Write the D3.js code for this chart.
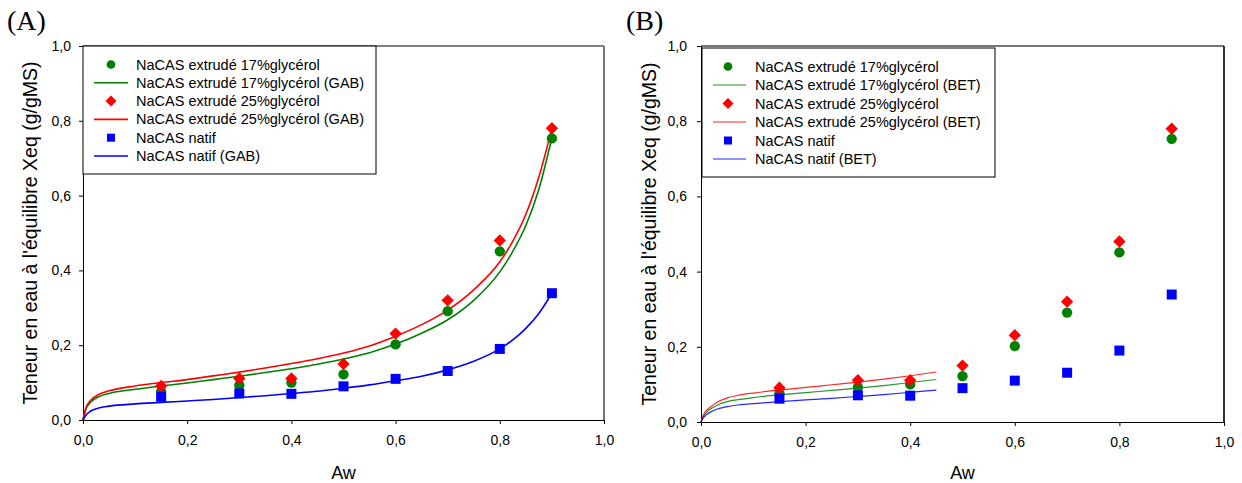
<!DOCTYPE html>
<html><head><meta charset="utf-8">
<script src="https://cdn.jsdelivr.net/npm/d3@7"></script>
<style>body{margin:0;background:#fff}svg text{font-family:Arial,"Liberation Sans",sans-serif}svg text.panel{font-family:"Liberation Serif","Times New Roman",serif}</style>
</head><body><svg id="c" width="1242" height="483"></svg>
<script>
// ---- data ----
const aw = [0.15, 0.3, 0.4, 0.5, 0.6, 0.7, 0.8, 0.9];
const ext17 = [0.076, 0.093, 0.100, 0.122, 0.202, 0.291, 0.451, 0.753];
const ext25 = [0.091, 0.111, 0.111, 0.150, 0.231, 0.320, 0.480, 0.780];
const natif = [0.062, 0.071, 0.070, 0.090, 0.110, 0.131, 0.190, 0.339];

const gabAw  = [0, 0.005, 0.015, 0.03, 0.05, 0.1, 0.15, 0.2, 0.25, 0.3, 0.35, 0.4, 0.45, 0.5, 0.55, 0.6, 0.65, 0.7, 0.75, 0.8, 0.825, 0.85, 0.875, 0.9];
const gab17  = [0, 0.027, 0.048, 0.062, 0.071, 0.082, 0.091, 0.099, 0.108, 0.117, 0.127, 0.137, 0.149, 0.163, 0.180, 0.203, 0.232, 0.268, 0.320, 0.396, 0.451, 0.520, 0.617, 0.755];
const gab25  = [0, 0.030, 0.053, 0.068, 0.078, 0.091, 0.100, 0.108, 0.118, 0.128, 0.139, 0.151, 0.164, 0.179, 0.198, 0.224, 0.255, 0.294, 0.348, 0.423, 0.478, 0.550, 0.650, 0.780];
const gabNat = [0, 0.012, 0.024, 0.032, 0.037, 0.043, 0.047, 0.051, 0.055, 0.060, 0.065, 0.071, 0.077, 0.085, 0.094, 0.105, 0.117, 0.134, 0.157, 0.190, 0.214, 0.245, 0.285, 0.339];

const betAw  = [0, 0.005, 0.01, 0.02, 0.03, 0.05, 0.075, 0.1, 0.15, 0.2, 0.25, 0.3, 0.35, 0.4, 0.45];
const bet17  = [0, 0.016, 0.025, 0.036, 0.044, 0.054, 0.060, 0.065, 0.072, 0.078, 0.084, 0.090, 0.097, 0.105, 0.113];
const bet25  = [0, 0.020, 0.030, 0.042, 0.052, 0.064, 0.072, 0.077, 0.085, 0.092, 0.099, 0.106, 0.114, 0.123, 0.133];
const betNat = [0, 0.012, 0.019, 0.028, 0.034, 0.041, 0.046, 0.049, 0.054, 0.059, 0.063, 0.068, 0.073, 0.079, 0.085];

const ticks = [0, 0.2, 0.4, 0.6, 0.8, 1.0];
const tickLabels = ["0,0", "0,2", "0,4", "0,6", "0,8", "1,0"];
const xTitle = "Aw";
const yTitle = "Teneur en eau à l'équilibre Xeq (g/gMS)";
const legendA = ["NaCAS extrudé 17%glycérol", "NaCAS extrudé 17%glycérol (GAB)", "NaCAS extrudé 25%glycérol", "NaCAS extrudé 25%glycérol (GAB)", "NaCAS natif", "NaCAS natif (GAB)"];
const legendB = ["NaCAS extrudé 17%glycérol", "NaCAS extrudé 17%glycérol (BET)", "NaCAS extrudé 25%glycérol", "NaCAS extrudé 25%glycérol (BET)", "NaCAS natif", "NaCAS natif (BET)"];

const GREEN = "#008000", RED = "#ff0000", BLUE = "#0000ff";
const svg = d3.select("#c");

function panel(o) {
  const x = d3.scaleLinear().domain([0, 1]).range([o.x0, o.x1]);
  const y = d3.scaleLinear().domain([0, 1]).range([o.y0, o.y1]);
  const g = svg.append("g");
  const fmt = (d) => tickLabels[ticks.indexOf(d)];

  g.append("line").attr("x1", o.x0).attr("x2", o.x1).attr("y1", o.y1).attr("y2", o.y1)
    .attr("stroke", o.topCol).attr("stroke-width", o.topW);
  g.append("line").attr("x1", o.x1).attr("x2", o.x1).attr("y1", o.y1).attr("y2", o.y0)
    .attr("stroke", o.rightCol).attr("stroke-width", o.rightW);

  const xa = g.append("g").attr("transform", `translate(0,${o.y0})`)
    .call(d3.axisBottom(x).tickValues(ticks).tickFormat(fmt).tickSizeOuter(0).tickSize(4).tickPadding(11));
  const ya = g.append("g").attr("transform", `translate(${o.x0},0)`)
    .call(d3.axisLeft(y).tickValues(ticks).tickFormat(fmt).tickSizeOuter(0).tickSize(4).tickPadding(o.yPad));
  [xa, ya].forEach(a => {
    a.selectAll("text").attr("font-size", 14).attr("fill", "#000");
    a.select(".domain").attr("stroke", "#000");
    a.selectAll(".tick line").attr("stroke", "#000");
  });

  g.append("text").attr("x", (o.x0 + o.x1) / 2).attr("y", 479).attr("text-anchor", "middle")
    .attr("font-size", 18).text(xTitle);
  g.append("text").attr("transform", `translate(${o.ytx},${(o.y0 + o.y1) / 2}) rotate(-90)`)
    .attr("text-anchor", "middle").attr("font-size", 19.5).text(yTitle);
  g.append("text").attr("class", "panel").attr("x", o.labx).attr("y", 30).attr("font-size", 28).text(o.label);

  const line = d3.line().x(d => x(d[0])).y(d => y(d[1])).curve(d3.curveMonotoneX);
  o.curves.forEach(c => {
    g.append("path").datum(c.xs.map((v, i) => [v, c.ys[i]]))
      .attr("d", line).attr("fill", "none").attr("stroke", c.color).attr("stroke-width", o.lw).attr("opacity", o.lop);
  });

  o.series.forEach(s => {
    const d = s.shape === "diamond" ? d3.symbol().type(d3.symbolSquare).size(76)() :
      s.shape === "circle" ? d3.symbol().type(d3.symbolCircle).size(84)() : d3.symbol().type(d3.symbolSquare).size(100)();
    g.append("g").selectAll("path").data(aw.map((a, i) => [a, s.ys[i]])).join("path")
      .attr("transform", p => `translate(${x(p[0])},${y(p[1])})${s.shape === "diamond" ? " rotate(45)" : ""}`)
      .attr("d", d).attr("fill", s.color);
  });

  const L = o.leg;
  g.append("rect").attr("x", L.x).attr("y", L.y).attr("width", L.w).attr("height", L.h)
    .attr("fill", "#fff").attr("stroke", "#000").attr("stroke-width", 1);
  const items = [
    {t: "circle", c: GREEN}, {t: "line", c: GREEN},
    {t: "diamond", c: RED}, {t: "line", c: RED},
    {t: "square", c: BLUE}, {t: "line", c: BLUE}
  ];
  items.forEach((it, i) => {
    const cy = L.ry0 + i * L.dy;
    if (it.t === "line") {
      g.append("line").attr("x1", L.lx0).attr("x2", L.lx1).attr("y1", cy).attr("y2", cy)
        .attr("stroke", it.c).attr("stroke-width", o.lw).attr("opacity", o.lop);
    } else {
      const d = it.t === "diamond" ? d3.symbol().type(d3.symbolSquare).size(60)() :
        it.t === "circle" ? d3.symbol().type(d3.symbolCircle).size(60)() : d3.symbol().type(d3.symbolSquare).size(64)();
      g.append("path").attr("d", d).attr("fill", it.c)
        .attr("transform", `translate(${L.sx},${cy})${it.t === "diamond" ? " rotate(45)" : ""}`);
    }
    g.append("text").attr("x", L.tx).attr("y", cy).attr("dy", "0.35em").attr("font-size", 14.5).text(o.legendText[i]);
  });
}

panel({
  x0: 83, x1: 604, y0: 420, y1: 46, yPad: 8, ytx: 37, labx: 7, label: "(A)",
  topCol: "#000", topW: 1.2, rightCol: "#777", rightW: 2, lw: 1.6, lop: 1,
  curves: [{xs: gabAw, ys: gab17, color: GREEN}, {xs: gabAw, ys: gab25, color: RED}, {xs: gabAw, ys: gabNat, color: BLUE}],
  series: [{ys: ext17, color: GREEN, shape: "circle"}, {ys: ext25, color: RED, shape: "diamond"}, {ys: natif, color: BLUE, shape: "square"}],
  legendText: legendA,
  leg: {x: 83, y: 46, w: 293, h: 128, ry0: 64.5, dy: 18.3, sx: 111, lx0: 94, lx1: 128, tx: 136}
});
panel({
  x0: 701, x1: 1224, y0: 422, y1: 46, yPad: 10, ytx: 656, labx: 626, label: "(B)",
  topCol: "#777", topW: 2, rightCol: "#000", rightW: 1.6, lw: 1.2, lop: 0.85,
  curves: [{xs: betAw, ys: bet17, color: GREEN}, {xs: betAw, ys: bet25, color: RED}, {xs: betAw, ys: betNat, color: BLUE}],
  series: [{ys: ext17, color: GREEN, shape: "circle"}, {ys: ext25, color: RED, shape: "diamond"}, {ys: natif, color: BLUE, shape: "square"}],
  legendText: legendB,
  leg: {x: 702, y: 48, w: 293, h: 129, ry0: 66.5, dy: 18.5, sx: 728, lx0: 713, lx1: 746, tx: 755}
});
</script></body></html>
